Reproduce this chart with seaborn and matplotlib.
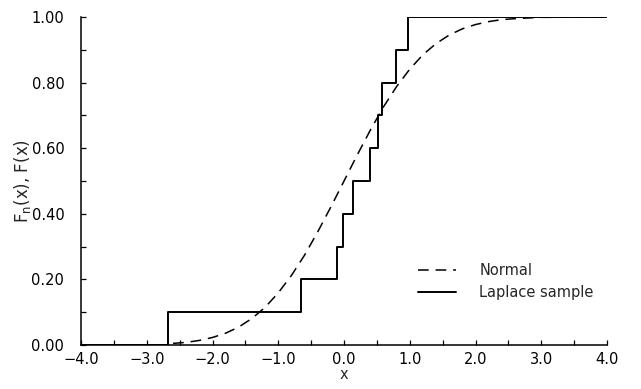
import numpy as np
import pandas as pd
import matplotlib
matplotlib.use("Agg")
import matplotlib.pyplot as plt
from matplotlib.ticker import MultipleLocator, FuncFormatter
import seaborn as sns

# Laplace sample (read from step positions)
sample = [-2.68, -0.66, -0.10, -0.01, 0.13, 0.39, 0.51, 0.58, 0.79, 0.97]
# Normal CDF curve
normal_x = [-2.6, -2.4, -2.2, -2.0, -1.8, -1.6, -1.4, -1.2, -1.0, -0.8, -0.6, -0.4, -0.2,
            0.0, 0.2, 0.4, 0.6, 0.8, 1.0, 1.2, 1.4, 1.6, 1.8, 2.0, 2.2, 2.4, 2.6, 2.8,
            3.0, 3.2, 3.4, 3.6, 3.8, 4.0]
normal_y = [0.005, 0.008, 0.014, 0.023, 0.036, 0.055, 0.081, 0.115, 0.159, 0.212, 0.274,
            0.345, 0.421, 0.500, 0.579, 0.655, 0.726, 0.788, 0.841, 0.885, 0.919, 0.945,
            0.964, 0.977, 0.986, 0.992, 0.995, 0.997, 0.999, 0.999, 1.000, 1.000, 1.000, 1.000]
x_ticks = [-4.0, -3.0, -2.0, -1.0, 0.0, 1.0, 2.0, 3.0, 4.0]
y_ticks = [0.0, 0.2, 0.4, 0.6, 0.8, 1.0]

sns.set_style("ticks")
plt.rcParams['font.family'] = ['DejaVu Sans']

n = len(sample)
srt = sorted(sample)
step_x = [x_ticks[0]] + srt + [x_ticks[-1]]
step_y = [0.0] + [(i + 1) / n for i in range(n)] + [1.0]
df_step = pd.DataFrame({"x": step_x, "y": step_y})
df_norm = pd.DataFrame({"x": normal_x, "y": normal_y})

fig = plt.figure(figsize=(6.41, 3.89), dpi=100)
ax = fig.add_axes([0.1264, 0.1131, 0.8206, 0.8432])

sns.lineplot(data=df_norm, x="x", y="y", ax=ax, color="black", lw=1.1,
             linestyle=(0, (7, 4.5)), label="Normal", sort=False)
sns.lineplot(data=df_step, x="x", y="y", ax=ax, color="black", lw=1.4,
             drawstyle="steps-post", label="Laplace sample", sort=False)

ax.set_xlim(-4.0, 4.0)
ax.set_ylim(0.0, 1.0)
ax.set_xticks(x_ticks)
ax.set_yticks(y_ticks)
ax.xaxis.set_minor_locator(MultipleLocator(0.5))
ax.yaxis.set_minor_locator(MultipleLocator(0.1))
ax.xaxis.set_major_formatter(FuncFormatter(lambda v, p: f"{v:.1f}".replace("-", "\u2212")))
ax.yaxis.set_major_formatter(FuncFormatter(lambda v, p: f"{v:.2f}".replace("-", "\u2212")))
ax.tick_params(axis="both", which="both", direction="in", length=3.5, width=0.9,
               labelsize=10.5, colors="black")
ax.tick_params(axis="y", which="major", pad=12)
ax.tick_params(axis="x", which="major", pad=5)
sns.despine(ax=ax)
for s in ["left", "bottom"]:
    ax.spines[s].set_linewidth(1.1)
    ax.spines[s].set_color("black")
for sp in ax.spines.values():
    sp.set_clip_on(False)

ax.set_xlabel("x", fontsize=10.5, labelpad=0)
ax.set_ylabel(r"F$_\mathregular{n}$(x), F(x)", fontsize=12, labelpad=-1)

leg = ax.legend(loc="lower left", bbox_to_anchor=(0.63, 0.12), frameon=False,
                fontsize=10.5, handlelength=2.6, handletextpad=1.6,
                labelspacing=0.45, borderaxespad=0)

fig.savefig("out.png", dpi=100)
